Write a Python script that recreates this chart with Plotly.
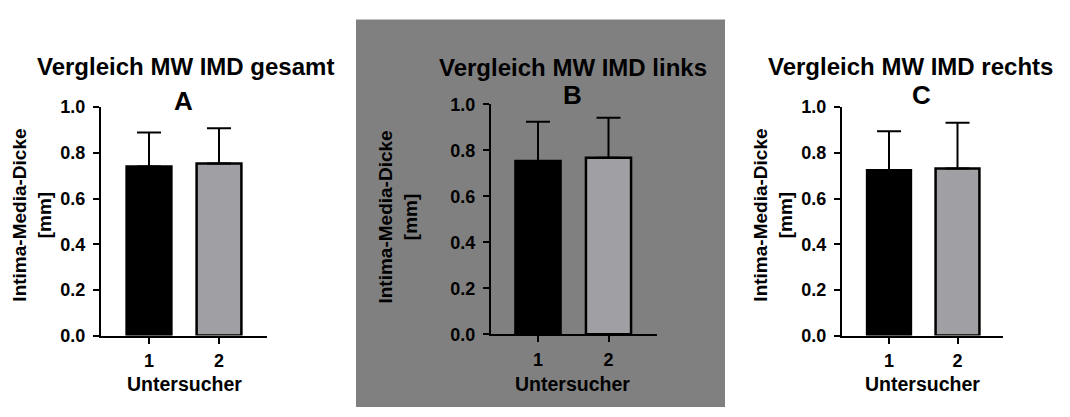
import plotly.graph_objects as go

# ---- data ----
categories = [1, 2]
tick_labels = ["1", "2"]
panel_titles = ["Vergleich MW IMD gesamt", "Vergleich MW IMD links", "Vergleich MW IMD rechts"]
panel_letters = ["A", "B", "C"]
mean_gesamt = [0.740, 0.753]
sd_gesamt = [0.149, 0.154]
mean_links = [0.753, 0.768]
sd_links = [0.171, 0.173]
mean_rechts = [0.724, 0.731]
sd_rechts = [0.170, 0.201]
y_label = "Intima-Media-Dicke<br>[mm]"
x_label = "Untersucher"
y_ticks = [0.0, 0.2, 0.4, 0.6, 0.8, 1.0]

W, H = 1070, 417
FONT = "Liberation Sans, Arial, sans-serif"
bar_colors = ["#000000", "#a0a0a4"]

geom = [
    dict(L=101, R=267, c1=149, c2=219, yb=342, yt=102, tx=185, ty=59, lx=183, ly=96, yx=32, yy=216, xx=184),
    dict(L=491, R=657, c1=538, c2=608.5, yb=340.7, yt=99, tx=573, ty=60, lx=572, ly=89, yx=398, yy=218, xx=572),
    dict(L=842, R=1003, c1=889, c2=957.5, yb=342, yt=102, tx=910, ty=59, lx=921, ly=89, yx=773, yy=216, xx=922),
]
means = [mean_gesamt, mean_links, mean_rechts]
sds = [sd_gesamt, sd_links, sd_rechts]

fig = go.Figure()
annotations = []
for i in range(3):
    g = geom[i]
    sfx = "" if i == 0 else str(i + 1)
    fig.add_trace(go.Bar(
        x=categories, y=means[i], width=0.64,
        marker=dict(color=bar_colors, line=dict(color="#000000", width=2.5)),
        error_y=dict(type="data", array=sds[i], arrayminus=[0, 0], symmetric=False,
                     color="#000000", thickness=2, width=12),
        xaxis="x" + sfx, yaxis="y" + sfx, showlegend=False,
    ))
    sp = g["c2"] - g["c1"]
    xr = [1 - (g["c1"] - g["L"]) / sp, 2 + (g["R"] - g["c2"]) / sp]
    axis_common = dict(showline=True, linecolor="#000000", linewidth=2, ticks="outside",
                       tickcolor="#000000", tickwidth=2, showgrid=False, zeroline=False,
                       tickfont=dict(family=FONT, size=18, color="#000000", weight="bold"))
    fig.update_layout(**{
        "xaxis" + sfx: dict(domain=[g["L"] / W, g["R"] / W], range=xr, tickvals=categories,
                            ticktext=tick_labels, ticklen=6, anchor="y" + sfx, fixedrange=True,
                            ticklabelstandoff=2, **axis_common),
        "yaxis" + sfx: dict(domain=[1 - g["yb"] / H, 1 - g["yt"] / H], range=[0, 1],
                            tickvals=y_ticks, tickformat=".1f", ticklen=6, anchor="x" + sfx,
                            ticklabelstandoff=4, **axis_common),
    })
    annotations += [
        dict(text=panel_titles[i], x=g["tx"] / W, y=1 - g["ty"] / H, xref="paper", yref="paper",
             showarrow=False, xanchor="center", yanchor="middle",
             font=dict(family=FONT, size=24, color="#000000", weight="bold")),
        dict(text=panel_letters[i], x=g["lx"] / W, y=1 - g["ly"] / H, xref="paper", yref="paper",
             showarrow=False, xanchor="center", yanchor="middle",
             font=dict(family=FONT, size=26, color="#000000", weight="bold")),
        dict(text=y_label, x=g["yx"] / W, y=1 - g["yy"] / H, xref="paper", yref="paper",
             showarrow=False, xanchor="center", yanchor="middle", textangle=-90,
             font=dict(family=FONT, size=19, color="#000000", weight="bold")),
        dict(text=x_label, x=g["xx"] / W, y=1 - 393 / H, xref="paper", yref="paper",
             showarrow=False, xanchor="center", yanchor="middle",
             font=dict(family=FONT, size=19.5, color="#000000", weight="bold")),
    ]

fig.update_layout(
    width=W, height=H, autosize=False,
    margin=dict(l=0, r=0, t=0, b=0, pad=0),
    paper_bgcolor="#ffffff", plot_bgcolor="rgba(0,0,0,0)",
    barmode="overlay",
    annotations=annotations,
    shapes=[dict(type="rect", xref="paper", yref="paper", x0=356 / W, x1=725 / W,
                 y0=0, y1=1 - 10 / H, fillcolor="#808080", line=dict(width=0), layer="below")],
)

fig.write_html("out.html")
